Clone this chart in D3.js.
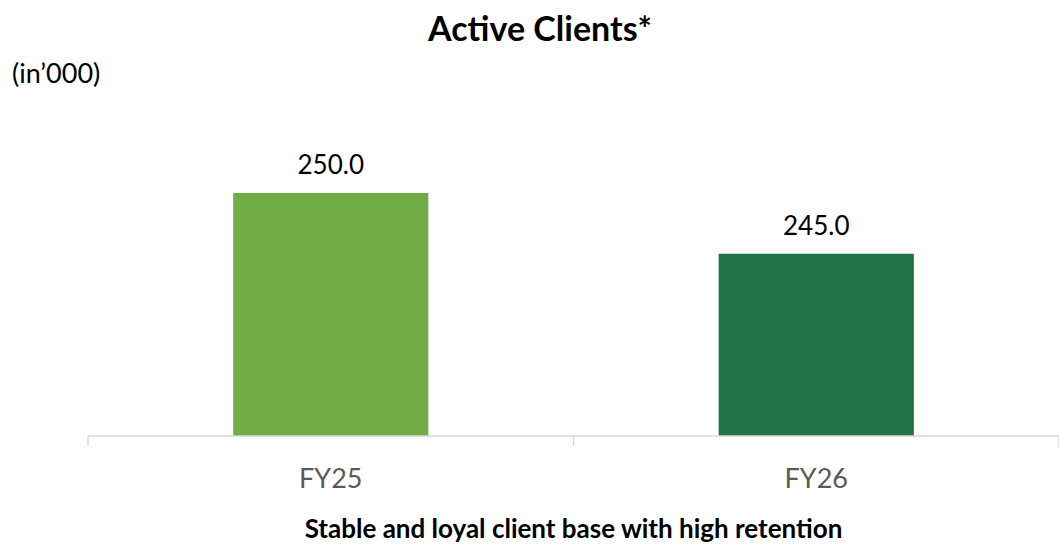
<!DOCTYPE html>
<html>
<head>
  <meta charset="utf-8">
  <title>Active Clients</title>
  <script src="https://cdnjs.cloudflare.com/ajax/libs/d3/7.8.5/d3.min.js"></script>
  <style>
    body { margin: 0; background: #fff; }
    text { font-family: Lato, "Open Sans", sans-serif; }
  </style>
</head>
<body>
<div id="chart"></div>
<script>
// data
var categories = ['FY25', 'FY26'];
var values = [250.0, 245.0];
var barColors = ['#70AD47', '#217346'];
var yDomain = [230, 250];

var width = 1059, height = 544;

var svg = d3.select('#chart').append('svg')
  .attr('width', width)
  .attr('height', height);

// x: band scale across the plot, bars take ~40% of each band
var x = d3.scaleBand()
  .domain(categories)
  .range([88, 1059])
  .paddingInner(0.598)
  .paddingOuter(0.299);

// y axis is truncated (does not start at zero)
var y = d3.scaleLinear()
  .domain(yDomain)
  .range([436, 193]);

// bars
svg.selectAll('rect.bar')
  .data(values)
  .enter()
  .append('rect')
  .attr('class', 'bar')
  .attr('x', function(d, i) { return x(categories[i]); })
  .attr('y', function(d) { return y(d); })
  .attr('width', x.bandwidth())
  .attr('height', function(d) { return y(yDomain[0]) - y(d); })
  .attr('fill', function(d, i) { return barColors[i]; });

// value labels
svg.selectAll('text.val')
  .data(values)
  .enter()
  .append('text')
  .attr('class', 'val')
  .attr('x', function(d, i) { return x(categories[i]) + x.bandwidth() / 2; })
  .attr('y', function(d) { return y(d) - 19; })
  .attr('text-anchor', 'middle')
  .attr('font-size', 26)
  .attr('fill', '#000')
  .text(function(d) { return d3.format('.1f')(d); });

// x axis: baseline plus ticks at band boundaries
var axisY = y(yDomain[0]);
var bounds = d3.range(categories.length + 1).map(function(i) {
  return x.range()[0] + i * x.step();
});

svg.append('line')
  .attr('x1', x.range()[0]).attr('x2', x.range()[1])
  .attr('y1', axisY).attr('y2', axisY)
  .attr('stroke', '#d9d9d9')
  .attr('stroke-width', 1.5);

svg.selectAll('line.tick')
  .data(bounds)
  .enter()
  .append('line')
  .attr('class', 'tick')
  .attr('x1', function(d) { return d; })
  .attr('x2', function(d) { return d; })
  .attr('y1', axisY)
  .attr('y2', axisY + 10)
  .attr('stroke', '#d9d9d9')
  .attr('stroke-width', 1.5);

svg.selectAll('text.cat')
  .data(categories)
  .enter()
  .append('text')
  .attr('class', 'cat')
  .attr('x', function(d) { return x(d) + x.bandwidth() / 2; })
  .attr('y', 488)
  .attr('text-anchor', 'middle')
  .attr('font-size', 27)
  .attr('fill', '#595959')
  .text(function(d) { return d; });

// titles
svg.append('text')
  .attr('x', 540)
  .attr('y', 41)
  .attr('text-anchor', 'middle')
  .attr('font-size', 34)
  .attr('font-weight', 'bold')
  .attr('fill', '#000')
  .text('Active Clients*');

svg.append('text')
  .attr('x', 12)
  .attr('y', 83)
  .attr('font-size', 27)
  .attr('fill', '#000')
  .text('(in\u2019000)');

svg.append('text')
  .attr('x', bounds[1])
  .attr('y', 538)
  .attr('text-anchor', 'middle')
  .attr('font-size', 26)
  .attr('font-weight', 'bold')
  .attr('fill', '#000')
  .text('Stable and loyal client base with high retention');
</script>
</body>
</html>
